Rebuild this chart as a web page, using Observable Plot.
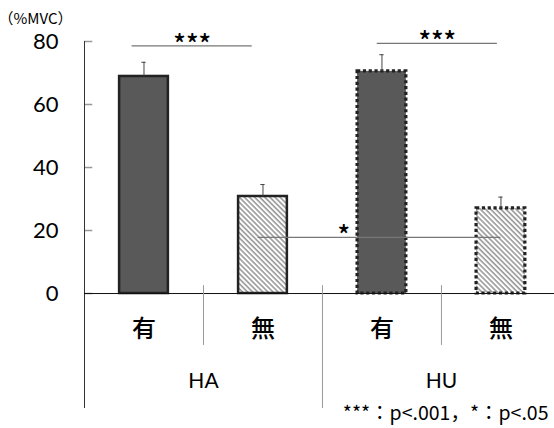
<!DOCTYPE html>
<html><head><meta charset="utf-8">
<script src="https://cdn.jsdelivr.net/npm/d3@7"></script>
<script src="https://cdn.jsdelivr.net/npm/@observablehq/plot@0.6"></script>
<style>body{margin:0;background:#fff;} svg{display:block;}</style>
</head><body><div id="chart"></div>
<script>
const categories = ["有", "無", "有", "無"];
const groups = ["HA", "HU"];
const values = [68.9, 30.8, 70.5, 27];
const errors = [4.5, 3.8, 5.3, 3.6];
const yTicks = [0, 20, 40, 60, 80];
const unitLabel = "（%MVC）";
const sigFrom = [0.4, 2.46, 1.46];
const sigTo = [1.41, 3.47, 3.5];
const sigLevel = [78.6, 79.4, 17.8];
const sigLabel = ["***", "***", "*"];
const sigLabelX = [0.905, 2.965, 2.18];
const caption = "***：p<.001，*：p<.05";

const bars = values.map((v, i) => ({i, c: i + 0.5, v, e: v + errors[i], cat: categories[i], group: groups[Math.floor(i / 2)], dotted: i >= 2, hatched: i % 2 === 1}));
const sigs = sigLabel.map((l, k) => ({x1: sigFrom[k], x2: sigTo[k], y: sigLevel[k], l, lx: sigLabelX[k]}));
const hw = 0.205;
const font = "Lato, 'Noto Sans CJK JP', sans-serif";
const cjk = "'Noto Sans CJK JP', sans-serif";

const defs = () => {
  const d = d3.create("svg:defs");
  const p = d.append("pattern").attr("id", "hatch").attr("patternUnits", "userSpaceOnUse")
    .attr("width", 3.6).attr("height", 3.6).attr("patternTransform", "rotate(-45)");
  p.append("rect").attr("width", 3.6).attr("height", 3.6).attr("fill", "#fff");
  p.append("line").attr("x1", 1).attr("x2", 1).attr("y1", 0).attr("y2", 3.6).attr("stroke", "#8a8a8a").attr("stroke-width", 1.4);
  return d.node();
};

const chart = Plot.plot({
  width: 554, height: 428,
  marginLeft: 84, marginRight: 0, marginTop: 41, marginBottom: 20,
  style: {fontFamily: font, background: "#fff"},
  x: {domain: [0, 3.95], axis: null},
  y: {domain: [-36.5, 80], axis: null},
  marks: [
    defs,
    // axis line and ticks
    Plot.ruleY(yTicks, {x1: 0, x2: 0.07, stroke: "#999", strokeWidth: 1.5}),
    Plot.ruleX([0], {y1: -36.5, y2: 80, stroke: "#333", strokeWidth: 1}),
    Plot.text(yTicks, {x: 0, y: d => d, text: d => String(d), textAnchor: "end", dx: -26, fontSize: 22, fill: "#000"}),
    Plot.text([unitLabel], {x: 0, y: 80, text: d => d, textAnchor: "start", dx: -86, dy: -22, fontSize: 15, fontFamily: cjk, fill: "#000"}),
    // bars
    Plot.rectY(bars.filter(d => !d.hatched), {x1: d => d.c - hw, x2: d => d.c + hw, y1: 0, y2: "v", fill: "#595959"}),
    Plot.rectY(bars.filter(d => d.hatched), {x1: d => d.c - hw, x2: d => d.c + hw, y1: 0, y2: "v", fill: "url(#hatch)"}),
    Plot.rectY(bars.filter(d => !d.dotted), {x1: d => d.c - hw, x2: d => d.c + hw, y1: 0, y2: "v", fill: "none", stroke: "#222", strokeWidth: 2.5}),
    Plot.rectY(bars.filter(d => d.dotted), {x1: d => d.c - hw, x2: d => d.c + hw, y1: 0, y2: "v", fill: "none", stroke: "#222", strokeWidth: 3.2, strokeDasharray: "3.2 2.6"}),
    // error bars
    Plot.ruleX(bars, {x: "c", y1: "v", y2: "e", stroke: "#444", strokeWidth: 1}),
    Plot.ruleY(bars, {x1: d => d.c - 0.018, x2: d => d.c + 0.018, y: "e", stroke: "#444", strokeWidth: 1}),
    // baseline
    Plot.ruleY([0], {x1: 0, x2: 3.95, stroke: "#111", strokeWidth: 1}),
    // dividers
    Plot.ruleX([2], {y1: -36.5, y2: 2.5, stroke: "#999", strokeWidth: 1}),
    Plot.ruleX([1, 3], {y1: -16.5, y2: 2.5, stroke: "#999", strokeWidth: 1}),
    // significance
    Plot.ruleY(sigs, {x1: "x1", x2: "x2", y: "y", stroke: "#777", strokeWidth: 1.2}),
    Plot.text(sigs, {x: "lx", y: "y", text: "l", fontSize: 26, fontFamily: cjk, fontWeight: 500, dy: 8, lineAnchor: "bottom", fill: "#000", style: {letterSpacing: "3px"}}),
    // category labels
    Plot.text(bars, {x: "c", y: 0, text: "cat", fontSize: 24, fontFamily: cjk, fontWeight: 500, dy: 36, fill: "#000"}),
    Plot.text(groups, {x: (d, i) => 1 + 2 * i, y: 0, text: d => d, fontSize: 21, dy: 88, fill: "#000"}),
    Plot.text([caption], {x: 3.95, y: -36.5, text: d => d, textAnchor: "end", dx: -6, dy: 5, fontSize: 19.5, fontFamily: cjk, fill: "#000"})
  ]
});
document.getElementById("chart").appendChild(chart);
</script>
</body></html>
